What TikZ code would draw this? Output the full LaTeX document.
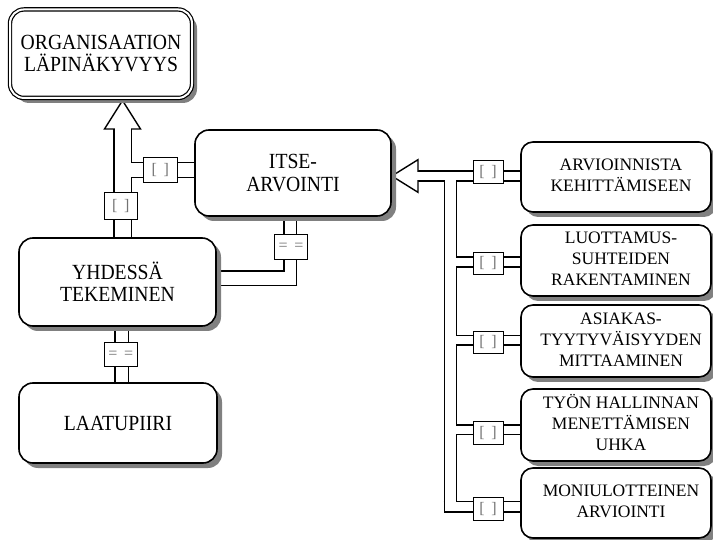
\documentclass[tikz,border=0pt]{standalone}
\usepackage{fontspec}
\setmainfont{Liberation Serif}
\newfontfamily\tallserif[FakeStretch=0.91]{Liberation Serif}
\usetikzlibrary{shadows,calc}
\pgfdeclarelayer{back}
\pgfdeclarelayer{pipes}
\pgfsetlayers{back,pipes,main}

\tikzset{
  card/.style={draw, line width=1.6pt, rounded corners=14pt, fill=white,
    drop shadow={shadow xshift=5pt, shadow yshift=-5pt, fill=black!50, opacity=1}},
  lefttext/.style={font=\tallserif\fontsize{21.6}{22.5}\selectfont, align=center},
  righttext/.style={font=\fontsize{17.5}{21}\selectfont},
  tag/.style={draw, line width=0.9pt, fill=white, text=black!55, inner sep=0pt,
    font=\fontsize{16}{16}\selectfont},
  bpipe/.style={draw=black, line width={(#1+1.4)*1pt}},
  wpipe/.style={draw=white, line width={(#1-1.4)*1pt}},
  hollow/.style={draw, line width=1.4pt, fill=white, line join=miter},
}

% text block of the right-hand cards, nudged a little to the right
\newcommand\rlines[1]{\hspace*{10pt}\begin{tabular}{@{}c@{}}#1\end{tabular}}
% tag captions
\newcommand\brk{[\,\ ]}
\newcommand\eqq{=\,\ =}

% double-line connectors: drawn once wide in black, then once narrower in white
% #1 pass style, #2 corner overlap, #3 reach into the arrowheads
\newcommand\pipework[3]{%
  \draw[#1=17.4] (yhd.center -| upbase) -- ([yshift=#3pt]upbase);
  \draw[#1=15] (jL) -- (jL -| itse.center);
  \draw[#1=10.3] ([xshift=-#3pt]rbase) -- (rbase -| r1.center);
  \draw[#1=12.4] (jR) -- ([yshift={-(5.15+(#2))*1pt}]b5);
  \draw[#1=10] (b2) -- (b2 -| r2.center);
  \draw[#1=9.3] (b3) -- (b3 -| r3.center);
  \draw[#1=9.3] (b4) -- (b4 -| r4.center);
  \draw[#1=10.3] ([xshift={-(6.2+(#2))*1pt}]b5) -- (b5 -| r5.center);
  \draw[#1=12.7] (itse.center -| cIY) -- ([yshift={-(7.35+(#2))*1pt}]cIY);
  \draw[#1=14.7] ([xshift={(6.35+(#2))*1pt}]cIY) -- (cIY -| yhd.center);
  \draw[#1=13.3] (vYL |- yhd.center) -- (vYL |- laatu.center);
}

\begin{document}
\begin{tikzpicture}[x=1pt,y=-1pt]
\begin{pgfonlayer}{back}
  \fill[white] (0,0) rectangle (713,540);
\end{pgfonlayer}
\useasboundingbox (0,0) rectangle (713,540);

% cards
\node[card, double, double distance=2pt, line width=1.2pt,
      minimum width=182pt, minimum height=88.5pt, lefttext] (org) at (101,53.7)
      {ORGANISAATION\\LÄPINÄKYVYYS};
\node[card, minimum width=196pt, minimum height=86pt, lefttext] (itse) at (293,173)
      {ITSE-\\ARVOINTI};
\node[card, minimum width=197pt, minimum height=88pt, lefttext] (yhd) at (117.5,282)
      {YHDESSÄ\\TEKEMINEN};
\node[card, minimum width=198pt, minimum height=80pt, lefttext] (laatu) at (118,423)
      {LAATUPIIRI};

\node[card, rounded corners=12pt, minimum width=190pt, minimum height=70pt, righttext] (r1) at (616,177)
      {\rlines{ARVIOINNISTA\\KEHITTÄMISEEN}};
\node[card, rounded corners=12pt, minimum width=190pt, minimum height=71pt, righttext] (r2) at (616,260.5)
      {\rlines{LUOTTAMUS-\\SUHTEIDEN\\RAKENTAMINEN}};
\node[card, rounded corners=12pt, minimum width=190pt, minimum height=72pt, righttext] (r3) at (616,341)
      {\rlines{ASIAKAS-\\TYYTYVÄISYYDEN\\MITTAAMINEN}};
\node[card, rounded corners=12pt, minimum width=190pt, minimum height=72pt, righttext] (r4) at (616,425)
      {\rlines{TYÖN HALLINNAN\\MENETTÄMISEN\\UHKA}};
\node[card, rounded corners=12pt, minimum width=190pt, minimum height=70pt, righttext] (r5) at (616,503)
      {\rlines{MONIULOTTEINEN\\ARVIOINTI}};

% junction and arrow points
\coordinate (upbase) at (122.5,129);
\coordinate (uptip)  at (122.5,100.5);
\coordinate (jL)     at (122.5,170.2);
\coordinate (rbase)  at (418,176);
\coordinate (rtip)   at (itse.east |- rbase);
\coordinate (jR)     at (450.5,176);
\coordinate (b2)     at (450.5,262);
\coordinate (b3)     at (450.5,340.4);
\coordinate (b4)     at (450.5,429.7);
\coordinate (b5)     at (450.5,506.85);
\coordinate (cIY)    at (290.3,278.3);
\coordinate (vYL)    at (121.65,354.5);

\begin{pgfonlayer}{pipes}
  \pipework{bpipe}{0.7}{0}
  \draw[hollow] (uptip) -- ([xshift=-18pt]upbase) -- ([xshift=18pt]upbase) -- cycle;
  \draw[hollow] (rtip) -- ([yshift=16.3pt]rbase) -- ([yshift=-16.3pt]rbase) -- cycle;
  \pipework{wpipe}{-0.7}{2}
\end{pgfonlayer}

% connector tags
\node[tag, minimum width=33.3pt, minimum height=26.7pt] (tshaft) at (120.7,206) {\brk};
\node[tag, minimum width=34pt, minimum height=24.7pt] (tjL) at (160.3,170.3) {\brk};
\node[tag, minimum width=33.4pt, minimum height=25.7pt] (tIY) at (291,247) {\eqq};
\node[tag, minimum width=33pt, minimum height=24.4pt] (tYL) at (120.8,354.5) {\eqq};
\node[tag, minimum width=30pt, minimum height=22.6pt] (t1) at (488,172) {\brk};
\node[tag, minimum width=30pt, minimum height=22.6pt] (t2) at (488,263.5) {\brk};
\node[tag, minimum width=30pt, minimum height=22.6pt] (t3) at (488,342.5) {\brk};
\node[tag, minimum width=30pt, minimum height=22.6pt] (t4) at (488,433) {\brk};
\node[tag, minimum width=30pt, minimum height=22.6pt] (t5) at (488,508.7) {\brk};
\end{tikzpicture}
\end{document}
